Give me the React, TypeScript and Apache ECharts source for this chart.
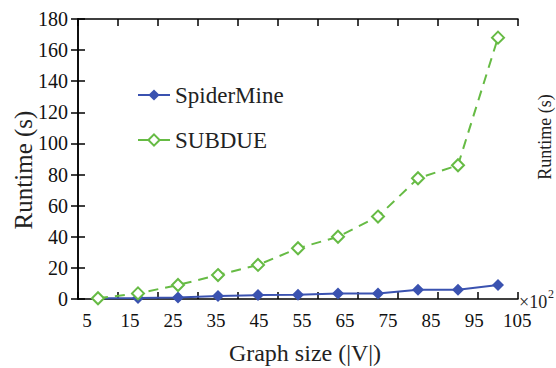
import React, { useEffect, useRef } from "react";
import * as echarts from "echarts";

const xValues = [5, 15, 25, 35, 45, 55, 65, 75, 85, 95, 105];
const xTickLabels = [5, 15, 25, 35, 45, 55, 65, 75, 85, 95, 105];
const spiderMine = [0.5, 0.7, 1, 2, 2.5, 2.7, 3.5, 3.5, 6, 6, 9];
const subdue = [0.5, 3.6, 9, 15.4, 21.9, 32.6, 40, 53, 77.6, 86, 168];
const seriesNames = ["SpiderMine", "SUBDUE"];

const FONT = "Liberation Serif";
const BLUE = "#3a52b0";
const GREEN = "#66bb44";

export default function App() {
  const ref = useRef<HTMLDivElement>(null);
  useEffect(() => {
    const chart = echarts.init(ref.current!, null, { renderer: "svg" });
    const axisLine = { show: true, lineStyle: { color: "#000", width: 1.5 } };
    const tick = { show: true, inside: true, length: 7, lineStyle: { color: "#000", width: 1.5 } };
    chart.setOption({
      animation: false,
      textStyle: { fontFamily: FONT },
      grid: { left: 78, top: 19, width: 440, height: 280 },
      legend: {
        data: [
          { name: seriesNames[0] },
          { name: seriesNames[1], lineStyle: { type: "solid" } },
        ],
        orient: "vertical",
        left: 132,
        top: 78,
        itemWidth: 32,
        itemHeight: 14,
        itemGap: 21,
        textStyle: { fontSize: 23, fontFamily: FONT, color: "#222", lineHeight: 24 },
      },
      xAxis: [
        {
          type: "value", min: 0, max: 110, interval: 10, position: "bottom",
          axisLine, axisTick: tick, axisLabel: { show: false }, splitLine: { show: false },
        },
        {
          type: "value", min: 2.9, max: 105.2, position: "bottom",
          axisLine: { show: false }, axisTick: { show: false }, splitLine: { show: false },
          axisLabel: { customValues: xTickLabels, fontSize: 19, fontFamily: FONT, color: "#111", margin: 12 },
        },
        {
          type: "value", min: 0, max: 110, interval: 10, position: "top",
          axisLine, axisTick: tick, axisLabel: { show: false }, splitLine: { show: false },
        },
      ],
      yAxis: [
        {
          type: "value", min: 0, max: 180, interval: 20, position: "left",
          axisLine, axisTick: tick, splitLine: { show: false },
          axisLabel: { fontSize: 20, fontFamily: FONT, color: "#111", margin: 10 },
        },
        {
          type: "value", min: 0, max: 180, interval: 20, position: "right",
          axisLine, axisTick: tick, splitLine: { show: false }, axisLabel: { show: false },
        },
      ],
      series: [
        {
          name: seriesNames[0], type: "line", xAxisIndex: 0, yAxisIndex: 0,
          data: xValues.map((x, i) => [x, spiderMine[i]]),
          symbol: "diamond", symbolSize: 12,
          lineStyle: { color: BLUE, width: 2 },
          itemStyle: { color: BLUE },
        },
        {
          name: seriesNames[1], type: "line", xAxisIndex: 0, yAxisIndex: 0,
          data: xValues.map((x, i) => [x, subdue[i]]),
          symbol: "diamond", symbolSize: 12,
          lineStyle: { color: GREEN, width: 2, type: [10, 7] },
          itemStyle: { color: "#fff", borderColor: GREEN, borderWidth: 2 },
        },
      ],
      graphic: [
        {
          type: "text", x: 23, y: 170, rotation: Math.PI / 2,
          style: { text: "Runtime (s)", fontSize: 25, fontFamily: FONT, fill: "#222", align: "center", verticalAlign: "middle" },
        },
        {
          type: "text", x: 545, y: 137, rotation: Math.PI / 2,
          style: { text: "Runtime (s)", fontSize: 18, fontFamily: FONT, fill: "#222", align: "center", verticalAlign: "middle" },
        },
        {
          type: "text", x: 305, y: 353,
          style: { text: "Graph size (|V|)", fontSize: 24, fontFamily: FONT, fill: "#222", align: "center", verticalAlign: "middle" },
        },
        {
          type: "text", x: 519, y: 302,
          style: { text: "×10", fontSize: 18, fontFamily: FONT, fill: "#222", align: "left", verticalAlign: "middle" },
        },
        {
          type: "text", x: 548, y: 294,
          style: { text: "2", fontSize: 12, fontFamily: FONT, fill: "#222", align: "left", verticalAlign: "middle" },
        },
      ],
    });
    return () => chart.dispose();
  }, []);
  return <div ref={ref} style={{ position: "absolute", left: 0, top: 0, width: 556, height: 368 }} />;
}
